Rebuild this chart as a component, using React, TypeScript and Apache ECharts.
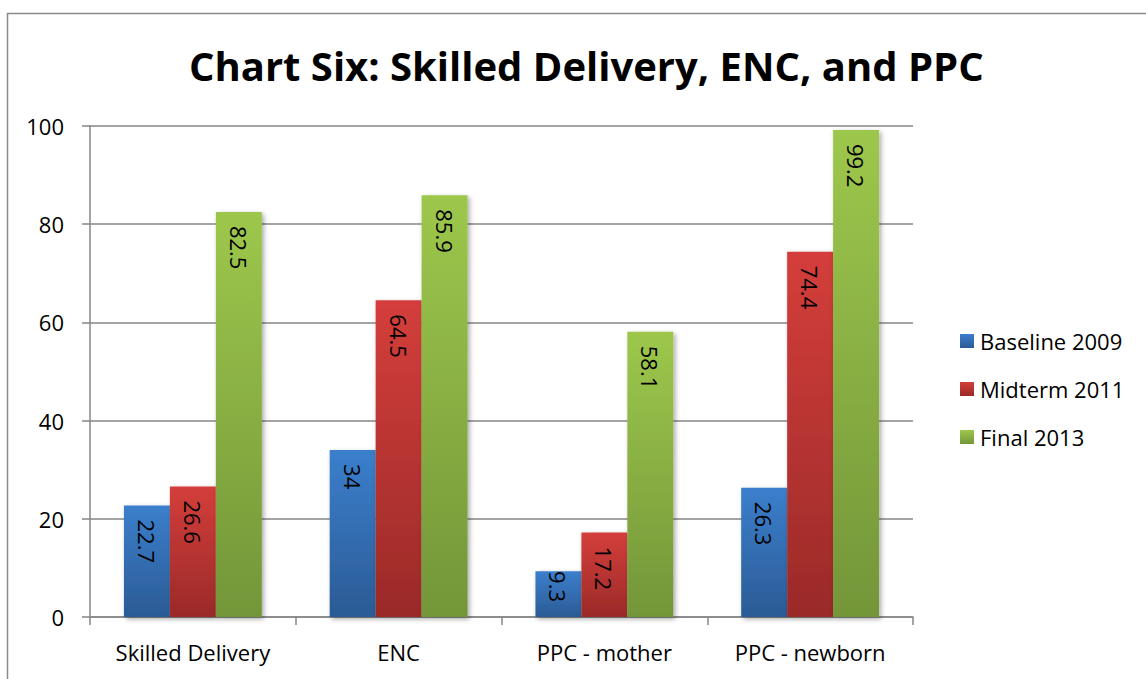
import React, { useEffect, useRef } from "react";
import * as echarts from "echarts";

const categories = ["Skilled Delivery", "ENC", "PPC - mother", "PPC - newborn"];
const baseline2009 = [22.7, 34, 9.3, 26.3];
const midterm2011 = [26.6, 64.5, 17.2, 74.4];
const final2013 = [82.5, 85.9, 58.1, 99.2];
const yTicks = [0, 20, 40, 60, 80, 100];

const FONT = "'Open Sans', 'Liberation Sans', sans-serif";

function grad(top: string, bottom: string) {
  return new echarts.graphic.LinearGradient(0, 0, 0, 1, [
    { offset: 0, color: top },
    { offset: 1, color: bottom },
  ]);
}

export default function App() {
  const ref = useRef<HTMLDivElement>(null);
  useEffect(() => {
    if (!ref.current) return;
    const chart = echarts.init(ref.current, undefined, { renderer: "svg" });
    const label = {
      show: true,
      position: "insideTop" as const,
      rotate: -90,
      align: "left" as const,
      verticalAlign: "middle" as const,
      distance: 14,
      color: "#000",
      fontSize: 22,
      fontFamily: FONT,
    };
    // short bars: label is pushed up so that it ends just above the axis
    const shortLabel = {
      position: "insideBottom" as const,
      align: "right" as const,
      distance: 15,
    };
    const mk = (name: string, data: number[], top: string, bottom: string) => ({
      name,
      type: "bar" as const,
      data: data.map((v) => (v < 12 ? { value: v, label: shortLabel } : v)),
      barGap: "0%",
      barCategoryGap: "33%",
      label,
      itemStyle: {
        color: grad(top, bottom),
        shadowColor: "rgba(0,0,0,0.35)",
        shadowBlur: 5,
        shadowOffsetX: 2,
        shadowOffsetY: 2,
      },
    });
    chart.setOption({
      animation: false,
      backgroundColor: "#fff",
      graphic: [
        {
          type: "rect",
          shape: { x: 7.5, y: 13.5, width: 1200, height: 800 },
          style: { fill: "none", stroke: "#8a8a8a", lineWidth: 1.5 },
          silent: true,
        },
      ],
      title: {
        text: "Chart Six: Skilled Delivery, ENC, and PPC",
        left: 184,
        top: 40,
        textStyle: { fontFamily: FONT, fontWeight: "bold", fontSize: 40, color: "#000" },
      },
      legend: {
        orient: "vertical",
        left: 955,
        top: 324,
        itemWidth: 14,
        itemHeight: 14,
        itemGap: 24,
        icon: "rect",
        textStyle: {
          fontFamily: FONT,
          fontSize: 22,
          lineHeight: 24,
          color: "#000",
          padding: [0, 0, 0, 1],
        },
        data: ["Baseline 2009", "Midterm 2011", "Final 2013"],
      },
      grid: { left: 90, right: 233, top: 126, bottom: 62, containLabel: false },
      xAxis: {
        type: "category",
        data: categories,
        axisLine: { lineStyle: { color: "#868686", width: 1.5 } },
        axisTick: { show: true, length: 8, lineStyle: { color: "#868686", width: 1.5 } },
        axisLabel: { fontFamily: FONT, fontSize: 22, color: "#000", margin: 24 },
      },
      yAxis: {
        type: "value",
        min: yTicks[0],
        max: yTicks[yTicks.length - 1],
        interval: 20,
        axisLine: { show: true, lineStyle: { color: "#868686", width: 1.5 } },
        axisTick: { show: true, length: 8, lineStyle: { color: "#868686", width: 1.5 } },
        splitLine: { lineStyle: { color: "#868686", width: 1.5 } },
        axisLabel: { fontFamily: FONT, fontSize: 22, color: "#000", margin: 26 },
      },
      series: [
        mk("Baseline 2009", baseline2009, "#3b7fcc", "#2b5b95"),
        mk("Midterm 2011", midterm2011, "#d43e3b", "#9a2a28"),
        mk("Final 2013", final2013, "#9dc74c", "#739639"),
      ],
    });
    return () => chart.dispose();
  }, []);
  return (
    <div
      ref={ref}
      style={{ position: "fixed", left: 0, top: 0, width: 1146, height: 679 }}
    />
  );
}
